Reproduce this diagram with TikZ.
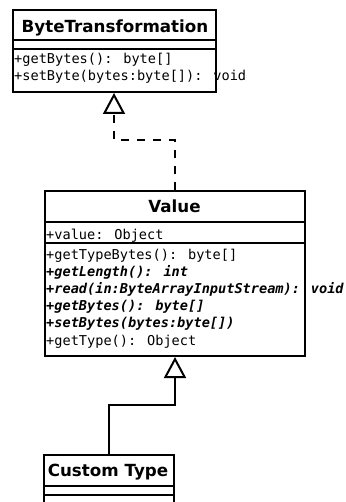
\documentclass[tikz,border=0pt]{standalone}
\usepackage{fontspec}
\setmainfont{DejaVu Sans}
\newfontfamily\umlmono{DejaVu Sans Mono}[
  BoldFont={DejaVu Sans Mono Bold},
  ItalicFont={DejaVu Sans Mono Oblique},
  BoldItalicFont={DejaVu Sans Mono Bold Oblique}]
\usetikzlibrary{arrows.meta}

\tikzset{
  classbox/.style={draw, line width=2pt, inner sep=0pt, anchor=north west},
  classtitle/.style={font=\fontsize{16.7}{20}\selectfont\bfseries, inner sep=0pt, anchor=base},
  member/.style={font=\umlmono\fontsize{13.6}{17}\selectfont, inner sep=0pt, anchor=base west},
  abstractop/.style={member, font=\umlmono\fontsize{13.6}{17}\selectfont\bfseries\itshape},
  uml/.style={line width=2pt},
  hollowtip/.style={-{Triangle[open, length=21pt, width=22pt, line width=2pt]}},
  realizes/.style={uml, hollowtip, dash pattern=on 8pt off 8pt},
  generalizes/.style={uml, hollowtip},
}

\begin{document}
\begin{tikzpicture}[x=1pt, y=-1pt, line join=miter]
\useasboundingbox (0,0) rectangle (345,502);

% interface ByteTransformation
\node[classbox, minimum width=203pt, minimum height=81.5pt] (bt) at (12,9.5) {};
\draw[uml] ([yshift=-31pt]bt.north west) -- ([yshift=-31pt]bt.north east);
\draw[uml] ([yshift=-40pt]bt.north west) -- ([yshift=-40pt]bt.north east);
\node[classtitle] (btname) at (115,32.5) {ByteTransformation};
\node[member] (btop1) at (14,63.5) {+getBytes(): byte[]};
\node[member] (btop2) at (14,80.5) {+setByte(bytes:byte[]): void};

% abstract class Value
\node[classbox, minimum width=260pt, minimum height=165pt] (val) at (44,190) {};
\draw[uml] ([yshift=-32pt]val.north west) -- ([yshift=-32pt]val.north east);
\draw[uml] ([yshift=-53pt]val.north west) -- ([yshift=-53pt]val.north east);
\node[classtitle] (valname) at (174.5,212.5) {Value};
\node[member] (valattr) at (46,239.5) {+value: Object};
\node[member] (valop1) at (46,259) {+getTypeBytes(): byte[]};
\node[abstractop] (valop2) at (46,276.2) {+getLength(): int};
\node[abstractop] (valop3) at (46,293.4) {+read(in:ByteArrayInputStream): void};
\node[abstractop] (valop4) at (46,310.6) {+getBytes(): byte[]};
\node[abstractop] (valop5) at (46,327.8) {+setBytes(bytes:byte[])};
\node[member] (valop6) at (46,345) {+getType(): Object};

% concrete class Custom Type
\node[classbox, minimum width=130pt, minimum height=90pt] (ct) at (43,454) {};
\draw[uml] ([yshift=-32pt]ct.north west) -- ([yshift=-32pt]ct.north east);
\draw[uml] ([yshift=-41pt]ct.north west) -- ([yshift=-41pt]ct.north east);
\node[classtitle] (ctname) at (108,476.5) {Custom Type};

% Value realizes ByteTransformation
\coordinate (realbend) at (114,140);
\draw[realizes] (val.north) |- (realbend) -- (realbend |- bt.south);

% Custom Type extends Value
\coordinate (genbend) at (val.south |- 0,405);
\draw[generalizes] (ct.north) |- (genbend) -- (val.south);
\end{tikzpicture}
\end{document}
